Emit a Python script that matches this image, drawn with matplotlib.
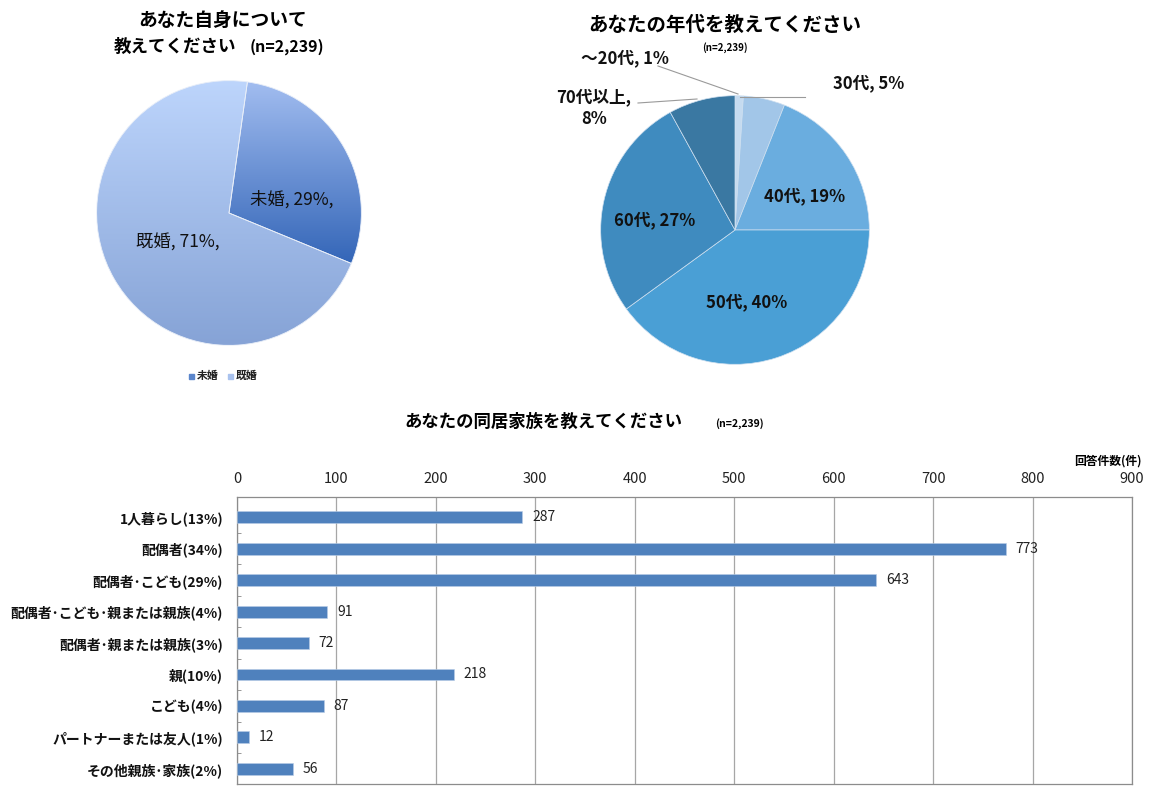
import numpy as np
import matplotlib
matplotlib.use("Agg")
import matplotlib.pyplot as plt
from matplotlib.colors import LinearSegmentedColormap
from matplotlib.lines import Line2D
from matplotlib.patches import Rectangle

plt.rcParams['font.family'] = ['Noto Sans CJK JP', 'DejaVu Sans']

# ---------------- data ----------------
marital_labels = ['未婚', '既婚']
marital_values = [29, 71]

age_labels = ['～20代', '30代', '40代', '50代', '60代', '70代以上']
age_values = [1, 5, 19, 40, 27, 8]

family_labels = ['1人暮らし(13%)', '配偶者(34%)', '配偶者･こども(29%)',
                 '配偶者･こども･親または親族(4%)', '配偶者･親または親族(3%)',
                 '親(10%)', 'こども(4%)', 'パートナーまたは友人(1%)', 'その他親族･家族(2%)']
family_values = [287, 773, 643, 91, 72, 218, 87, 12, 56]
x_ticks = [0, 100, 200, 300, 400, 500, 600, 700, 800, 900]

W, H = 1154, 795
fig = plt.figure(figsize=(W / 100, H / 100), dpi=100)
fig.patch.set_facecolor('white')


def fx(x):
    return x / W


def fy(y):
    return 1 - y / H


def ptext(x, y, s, **kw):
    kw.setdefault('ha', 'center')
    kw.setdefault('va', 'center')
    return fig.text(fx(x), fy(y), s, **kw)


def pie_axes(cx, cy, r):
    return fig.add_axes([fx(cx - r), fy(cy + r), 2 * r / W, 2 * r / H])


# ---------------- pie 1 ----------------
ax1 = pie_axes(229, 213, 135)
grads = [('#a2bdf0', '#3466b8'), ('#bdd5fc', '#86a3d6')]
wedges, _ = ax1.pie(marital_values, startangle=82, counterclock=False,
                    colors=['none', 'none'], radius=1,
                    wedgeprops=dict(edgecolor='#e8eef8', linewidth=0.6))
for w, (ctop, cbot) in zip(wedges, grads):
    ext = w.get_path().get_extents()
    cmap = LinearSegmentedColormap.from_list('g', [cbot, ctop])
    grad = np.linspace(0, 1, 256).reshape(-1, 1)
    im = ax1.imshow(grad, extent=(ext.x0, ext.x1, ext.y0, ext.y1), origin='lower',
                    cmap=cmap, aspect='auto', zorder=0.5)
    im.set_clip_path(w)
ax1.set_xlim(-1.02, 1.02)
ax1.set_ylim(-1.02, 1.02)
ax1.set_aspect('equal')
ax1.axis('off')

ptext(292, 199, f'{marital_labels[0]}, {marital_values[0]}%,', fontsize=12.5, color='#111111')
ptext(178, 243, f'{marital_labels[1]}, {marital_values[1]}%,', fontsize=12.5, color='#111111')

ptext(223, 20, 'あなた自身について', fontsize=13.5, fontweight='bold')
ptext(236, 47, '教えてください', fontsize=12.6, fontweight='bold', ha='right')
ptext(250, 47, '(n=2,239)', fontsize=11.5, fontweight='bold', ha='left')

# legend
leg_cols = ['#5b86cc', '#a9c2ee']
for lab, col, sx in zip(marital_labels, leg_cols, [189, 228]):
    fig.add_artist(Rectangle((fx(sx), fy(379)), 5 / W, 5 / H, color=col,
                             transform=fig.transFigure))
    ptext(sx + 8, 376, lab, fontsize=7.8, fontweight='bold', ha='left', color='#222222')

# ---------------- pie 2 ----------------
ax2 = pie_axes(735, 230, 137)
age_colors = ['#c5dbf0', '#a2c6e8', '#6aaddf', '#4a9fd5', '#3f8bbf', '#3a78a2']
ax2.pie(age_values, startangle=90, counterclock=False, colors=age_colors, radius=1,
        wedgeprops=dict(edgecolor='#cfe0f0', linewidth=0.5))
ax2.set_xlim(-1.02, 1.02)
ax2.set_ylim(-1.02, 1.02)
ax2.set_aspect('equal')
ax2.axis('off')

ptext(725, 25, 'あなたの年代を教えてください', fontsize=14, fontweight='bold')
ptext(725, 48, '(n=2,239)', fontsize=7, fontweight='bold')

lab_kw = dict(fontsize=12, fontweight='bold', color='#111111')
ptext(625, 58, f'{age_labels[0]}, {age_values[0]}%', **lab_kw)
ptext(869, 83, f'{age_labels[1]}, {age_values[1]}%', **lab_kw)
ptext(805, 196, f'{age_labels[2]}, {age_values[2]}%', **lab_kw)
ptext(747, 302, f'{age_labels[3]}, {age_values[3]}%', **lab_kw)
ptext(655, 220, f'{age_labels[4]}, {age_values[4]}%', **lab_kw)
ptext(594, 108, f'{age_labels[5]},\n{age_values[5]}%', linespacing=1.3, **lab_kw)

for (x0, y0), (x1, y1) in [((658, 66), (738, 94)), ((740, 97), (805, 97)), ((638, 103), (697, 99))]:
    fig.add_artist(Line2D([fx(x0), fx(x1)], [fy(y0), fy(y1)], color='#9a9a9a', lw=0.8,
                          transform=fig.transFigure))

# ---------------- bar chart ----------------
ax3 = fig.add_axes([fx(237), fy(784), (1132 - 237) / W, (784 - 497) / H])
ypos = np.arange(len(family_values))
ax3.barh(ypos, family_values, height=0.38, color='#4f81bd', edgecolor='#b8cde6',
         linewidth=0.4, zorder=3)
ax3.set_xlim(0, 900)
ax3.set_ylim(8.48, -0.64)
ax3.set_xticks(x_ticks)
ax3.xaxis.tick_top()
ax3.tick_params(axis='x', length=0, pad=8, labelsize=10.5, labelcolor='#222222')
ax3.set_yticks(ypos)
ax3.set_yticklabels(family_labels, fontsize=10, fontweight='bold', color='#111111')
ax3.tick_params(axis='y', which='major', length=0, pad=10)
ax3.set_yticks(np.arange(0.5, len(family_values) - 1, 1.0), minor=True)
ax3.tick_params(axis='y', which='minor', direction='in', length=3, color='#888888', left=True)
ax3.grid(axis='x', color='#a6a6a6', linewidth=0.9, zorder=0)
for s in ax3.spines.values():
    s.set_color('#8c8c8c')
    s.set_linewidth(0.9)
for y, v in zip(ypos, family_values):
    ax3.annotate(str(v), (v, y), xytext=(7, 0), textcoords='offset points',
                 va='center', ha='left', fontsize=10, color='#222222', zorder=4)

ptext(543, 422, 'あなたの同居家族を教えてください', fontsize=12.5, fontweight='bold')
ptext(739, 424, '(n=2,239)', fontsize=7.5, fontweight='bold')
ptext(1142, 461, '回答件数(件)', fontsize=8.5, fontweight='bold', ha='right')

fig.savefig('out.png', dpi=100, facecolor='white')
